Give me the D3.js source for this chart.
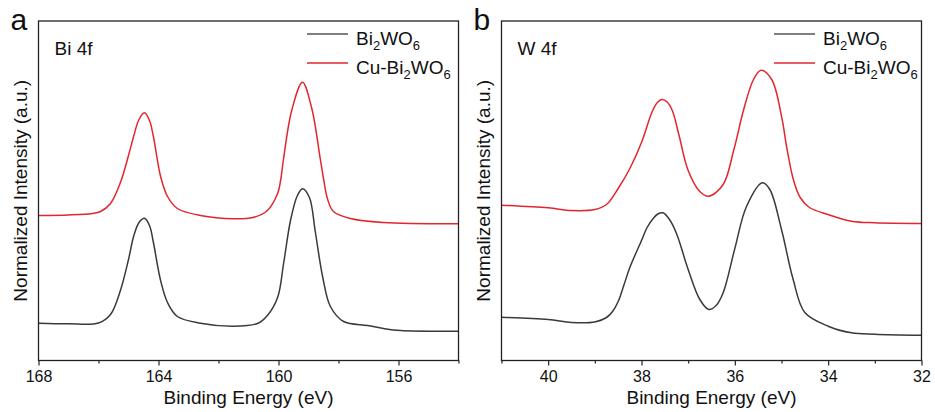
<!DOCTYPE html>
<meta charset="utf-8">
<style>
  body { margin: 0; background: #fff; }
  text { font-family: "Liberation Sans", Arial, sans-serif; fill: #111; }
  .frame { fill: none; stroke: #222; stroke-width: 1.3; }
  .tick line { stroke: #222; stroke-width: 1.2; }
  .curve { fill: none; stroke-width: 1.5; stroke-linejoin: round; }
</style>
<svg width="935" height="412"></svg>
<script src="https://cdn.jsdelivr.net/npm/d3@7"></script>
<script>
// Bi 4f panel (binding energy in eV, intensity in a.u.)
var biEnergyPristine = [168, 167, 166, 165.6, 165.27, 165.0, 164.83, 164.65, 164.47, 164.3, 164.17, 163.93, 163.7, 163.37, 162.6, 161.5, 160.7, 160.37, 160.03, 159.83, 159.6, 159.37, 159.2, 158.97, 158.77, 158.53, 158.27, 157.83, 157.03, 156.5, 155.93, 154.0];
var biPristine = [37.3, 36.7, 37.5, 46, 70, 101, 124, 138, 142.3, 135, 118, 80, 58, 44, 37.3, 34.3, 37, 45, 63, 97, 140, 165, 171.7, 163, 128, 84, 54, 39, 35, 32, 30, 29.3];
var biEnergyCu = [168, 167, 166.2, 165.93, 165.6, 165.27, 165.0, 164.83, 164.65, 164.47, 164.3, 164.17, 163.93, 163.7, 163.37, 162.6, 161.5, 160.85, 160.37, 160.03, 159.93, 159.83, 159.56, 159.2, 158.89, 158.61, 158.5, 158.37, 158.17, 157.6, 156.5, 154.0];
var biCu = [145, 145.5, 147, 149, 157, 178, 205, 224, 241, 247.7, 240, 224, 184, 164, 152, 145, 141.7, 143, 150, 167, 180, 202, 250, 278.3, 252, 202, 182, 162, 149, 142, 138, 136.7];

// W 4f panel
var wEnergyPristine = [41.0, 40.0, 39.5, 39.0, 38.75, 38.62, 38.5, 38.38, 38.25, 38.0, 37.88, 37.75, 37.65, 37.54, 37.4, 37.25, 37.0, 36.75, 36.56, 36.4, 36.25, 36.0, 35.75, 35.41, 35.25, 35.0, 34.75, 34.5, 34.0, 33.5, 33.0, 32.0];
var wPristine = [43.3, 41, 38, 38.5, 43, 49, 59, 75, 93, 120, 133, 142, 146.5, 147.7, 141, 127, 91, 61, 51, 55, 67.7, 112, 154, 177.7, 171, 131, 81, 48, 34.3, 27.7, 26.3, 25.3];
var wEnergyCu = [41.0, 40.0, 39.5, 39.0, 38.75, 38.5, 38.25, 38.0, 37.77, 37.66, 37.56, 37.45, 37.34, 37.2, 37.0, 36.75, 36.56, 36.25, 36.02, 35.81, 35.6, 35.44, 35.21, 35.0, 34.88, 34.74, 34.6, 34.4, 34.0, 33.5, 33.0, 32.0];
var wCu = [155.3, 152.7, 150, 151, 156, 172, 192, 218, 249, 258, 261, 258.5, 250, 226, 190, 169, 164.3, 176, 211, 251, 281, 290.3, 281, 244.3, 211, 180, 163, 153, 146, 139.3, 137.7, 137];

var xTicksBi = [168, 164, 160, 156];
var xTicksW = [40, 38, 36, 34, 32];
var seriesNames = ["Bi2WO6", "Cu-Bi2WO6"];
var colors = ["#3a3a3a", "#e3262d"];

var svg = d3.select("svg");
var top0 = 21, bottom0 = 360.5, plotW = 420;

function panel(opts) {
  var x = d3.scaleLinear().domain(opts.xDomain).range([opts.left, opts.left + plotW]);
  var y = d3.scaleLinear().domain([0, 339.5]).range([bottom0, top0]);
  var g = svg.append("g");

  var minor = d3.range(opts.xDomain[1], opts.xDomain[0] + 0.001, opts.minorStep)
      .filter(function(v) { return opts.ticks.indexOf(v) < 0; });
  g.append("g")
      .attr("transform", "translate(0," + bottom0 + ")")
      .call(d3.axisBottom(x).tickValues(minor).tickSize(3).tickFormat(""))
      .call(function(a) { a.select(".domain").remove(); a.selectAll("text").remove(); });
  g.append("g")
      .attr("transform", "translate(0," + bottom0 + ")")
      .call(d3.axisBottom(x).tickValues(opts.ticks).tickSize(5).tickPadding(5).tickFormat(d3.format("d")))
      .call(function(a) {
        a.select(".domain").remove();
        a.selectAll("text").attr("font-size", 16).attr("font-family", null).attr("fill", "#111");
      });

  var line = d3.line()
      .x(function(d) { return x(d[0]); })
      .y(function(d) { return y(d[1]); })
      .curve(d3.curveCatmullRom.alpha(0.5));
  opts.series.forEach(function(s, i) {
    var pts = d3.zip(s[0], s[1]).sort(function(a, b) { return a[0] - b[0]; });
    g.append("path").attr("class", "curve")
        .attr("stroke", colors[i])
        .attr("d", line(pts));
  });

  g.append("rect").attr("class", "frame")
      .attr("x", opts.left).attr("y", top0)
      .attr("width", plotW).attr("height", bottom0 - top0);

  g.append("text").attr("x", opts.left - 28).attr("y", 30)
      .attr("font-size", 30).text(opts.letter);
  g.append("text").attr("x", opts.left + 16).attr("y", 55)
      .attr("font-size", 19).text(opts.title);

  g.append("text")
      .attr("transform", "translate(" + (opts.left - 12) + "," + ((top0 + bottom0) / 2) + ") rotate(-90)")
      .attr("text-anchor", "middle").attr("font-size", 19)
      .text("Normalized Intensity (a.u.)");
  g.append("text")
      .attr("x", opts.left + plotW / 2).attr("y", 404)
      .attr("text-anchor", "middle").attr("font-size", 19)
      .text("Binding Energy (eV)");

  // legend
  seriesNames.forEach(function(name, i) {
    var ly = 34 + i * 29;
    g.append("line")
        .attr("x1", opts.legendX).attr("x2", opts.legendX + 41)
        .attr("y1", ly).attr("y2", ly)
        .attr("stroke", i === 0 ? "#555" : colors[1]).attr("stroke-width", 1.5);
    var t = g.append("text").attr("x", opts.legendX + 49).attr("y", ly + 11).attr("font-size", 19);
    name.match(/[^0-9]+|[0-9]+/g).forEach(function(p) {
      var sp = t.append("tspan").text(p);
      if (/^[0-9]+$/.test(p)) sp.attr("font-size", 13).attr("baseline-shift", -5);
    });
  });
}

panel({
  left: 38.5, xDomain: [168, 154], ticks: xTicksBi, minorStep: 2,
  letter: "a", title: "Bi 4f", legendX: 307,
  series: [[biEnergyPristine, biPristine], [biEnergyCu, biCu]]
});
panel({
  left: 501.5, xDomain: [41, 32], ticks: xTicksW, minorStep: 1,
  letter: "b", title: "W 4f", legendX: 774,
  series: [[wEnergyPristine, wPristine], [wEnergyCu, wCu]]
});
</script>
